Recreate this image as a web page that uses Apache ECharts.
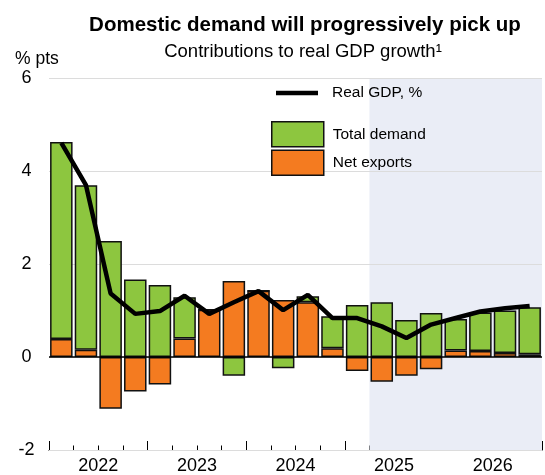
<!DOCTYPE html>
<html>
<head>
<meta charset="utf-8">
<script src="https://cdn.jsdelivr.net/npm/echarts@6/dist/echarts.min.js"></script>
<style>
  html, body { margin: 0; padding: 0; background: #fff; }
  #chart { width: 545px; height: 475px; }
</style>
</head>
<body>
<div id="chart"></div>
<script>
const quarters = [
  '2022Q1', '2022Q2', '2022Q3', '2022Q4',
  '2023Q1', '2023Q2', '2023Q3', '2023Q4',
  '2024Q1', '2024Q2', '2024Q3', '2024Q4',
  '2025Q1', '2025Q2', '2025Q3', '2025Q4',
  '2026Q1', '2026Q2', '2026Q3', '2026Q4'
];
const yearLabels = ['2022', '2023', '2024', '2025', '2026'];
const totalDemand = [4.24, 3.54, 2.50, 1.67, 1.55, 0.89, 0, -0.40, 0, -0.24,
  0.13, 0.69, 1.12, 1.18, 0.80, 0.95, 0.68, 0.83, 0.91, 1.01];
const netExports = [0.39, 0.16, -1.11, -0.74, -0.59, 0.40, 1.02, 1.64, 1.43, 1.23,
  1.18, 0.19, -0.30, -0.53, -0.40, -0.26, 0.14, 0.13, 0.09, 0.06];
const realGdp = [4.61, 3.70, 1.37, 0.93, 0.99, 1.32, 0.93, 1.18, 1.42, 1.01,
  1.34, 0.84, 0.84, 0.66, 0.41, 0.70, 0.84, 0.98, 1.05, 1.10];
// first projected quarter (shaded area starts here)
const projectionStart = 13;

const font = 'Liberation Sans, Arial, sans-serif';
const green = '#8dc63f';
const orange = '#f47b20';

const chart = echarts.init(document.getElementById('chart'));
chart.setOption({
  animation: false,
  backgroundColor: '#fff',
  textStyle: { fontFamily: font },
  title: [
    {
      text: 'Domestic demand will progressively pick up',
      left: 300, top: 10, textAlign: 'center',
      textStyle: { fontSize: 20.5, fontWeight: 'bold', color: '#000', fontFamily: font }
    },
    {
      text: 'Contributions to real GDP growth\u00b9',
      left: 298, top: 37, textAlign: 'center',
      textStyle: { fontSize: 18.5, fontWeight: 'normal', color: '#000', fontFamily: font }
    },
    {
      text: '% pts',
      left: 10, top: 45,
      textStyle: { fontSize: 17.5, fontWeight: 'normal', color: '#000', fontFamily: font }
    }
  ],
  legend: [
    {
      left: 271, top: 80,
      data: [{ name: 'Real GDP, %', icon: 'rect' }],
      itemWidth: 42, itemHeight: 4.5,
      itemStyle: { color: '#000', borderWidth: 0 },
      textStyle: { fontSize: 15.5, color: '#000', padding: [0, 0, 0, 9] }
    },
    {
      left: 266, top: 116, orient: 'vertical', icon: 'rect',
      data: ['Total demand', 'Net exports'],
      itemWidth: 52, itemHeight: 25, itemGap: 2,
      itemStyle: { borderColor: '#111', borderWidth: 1.5 },
      textStyle: { fontSize: 15.5, color: '#000', padding: [0, 0, 0, 4] }
    }
  ],
  grid: { left: 49, top: 78.3, width: 498, height: 375 },
  xAxis: [
    { type: 'category', data: quarters, show: false },
    {
      type: 'value', min: 0, max: quarters.length, interval: 1, position: 'bottom',
      axisLine: { show: true, lineStyle: { color: '#000', width: 1 } },
      axisTick: { show: true, inside: true, length: 4.5, lineStyle: { color: '#000' } },
      axisLabel: {
        fontSize: 18, color: '#000', margin: 7,
        formatter: (v) => (v % 4 === 2 ? yearLabels[(v - 2) / 4] : '')
      },
      splitLine: { show: false }
    },
    {
      type: 'value', min: 0, max: quarters.length, interval: 4, position: 'bottom',
      axisLine: { show: false },
      axisTick: { show: true, inside: true, length: 9, lineStyle: { color: '#000' } },
      axisLabel: { show: false },
      splitLine: { show: false }
    }
  ],
  yAxis: {
    type: 'value', min: -2, max: 6, interval: 2, z: 1.5,
    axisLine: { show: false },
    axisTick: { show: false },
    axisLabel: { fontSize: 18, color: '#000', align: 'center', margin: 22.5 },
    splitLine: { lineStyle: { color: '#dcdcdc', width: 1 } }
  },
  series: [
    {
      // shading for the projection period
      type: 'line', xAxisIndex: 1, z: 1, data: [[0, 0]],
      showSymbol: false, lineStyle: { opacity: 0 }, silent: true,
      markArea: {
        silent: true,
        itemStyle: { color: '#eaedf6' },
        data: [[{ xAxis: projectionStart }, { xAxis: quarters.length }]]
      }
    },
    {
      name: 'Net exports', type: 'bar', stack: 'contrib', data: netExports,
      barWidth: 22.5, z: 2,
      itemStyle: { color: orange, borderColor: '#111', borderWidth: 1.5 }
    },
    {
      name: 'Total demand', type: 'bar', stack: 'contrib', data: totalDemand,
      barWidth: 22.5, z: 2,
      itemStyle: { color: green, borderColor: '#111', borderWidth: 1.5 }
    },
    {
      name: 'Real GDP, %', type: 'line', data: realGdp, z: 4,
      symbol: 'none', itemStyle: { color: '#000' },
      lineStyle: { color: '#000', width: 4.5 },
      markLine: {
        silent: true, symbol: 'none', label: { show: false },
        lineStyle: { color: '#000', width: 1.5, type: 'solid' },
        data: [{ yAxis: 0 }]
      }
    }
  ]
});
</script>
</body>
</html>
